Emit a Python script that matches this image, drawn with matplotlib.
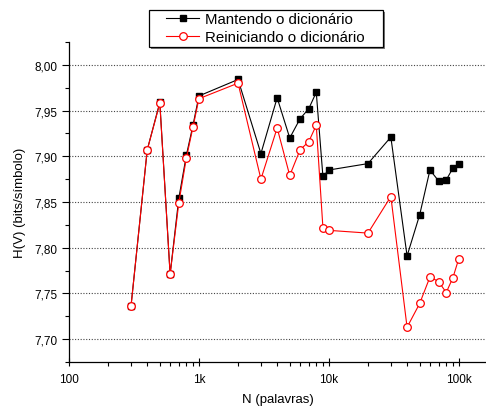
import matplotlib
matplotlib.use("Agg")
import matplotlib.pyplot as plt
from matplotlib.patches import Rectangle
from matplotlib.ticker import FixedLocator, FuncFormatter, MultipleLocator, NullFormatter

plt.rcParams['font.family'] = ['Liberation Sans', 'DejaVu Sans']

# N (palavras)
n_words = [300, 400, 500, 600, 700, 800, 900, 1000, 2000, 3000, 4000, 5000,
           6000, 7000, 8000, 9000, 10000, 20000, 30000, 40000, 50000, 60000,
           70000, 80000, 90000, 100000]

# H(V) keeping the dictionary
h_keep = [7.736, 7.907, 7.959, 7.771, 7.854, 7.901, 7.934, 7.966, 7.984, 7.903,
          7.964, 7.920, 7.941, 7.952, 7.970, 7.878, 7.885, 7.892, 7.921, 7.791,
          7.836, 7.885, 7.873, 7.874, 7.887, 7.892]

# H(V) restarting the dictionary
h_reset = [7.736, 7.907, 7.958, 7.771, 7.849, 7.898, 7.932, 7.963, 7.980, 7.875,
           7.931, 7.879, 7.907, 7.916, 7.934, 7.822, 7.819, 7.816, 7.856, 7.713,
           7.739, 7.768, 7.763, 7.751, 7.767, 7.788]

y_ticks = [7.70, 7.75, 7.80, 7.85, 7.90, 7.95, 8.00]

W, H = 486, 410
fig = plt.figure(figsize=(W / 100, H / 100), dpi=100)
ax = fig.add_axes([0.142, 0.1146, 0.858, 0.7805])

ax.plot(n_words, h_keep, color="black", lw=0.8, marker="s", ms=5,
        mfc="black", mec="black", label="Mantendo o dicionário", zorder=3)
ax.plot(n_words, h_reset, color="red", lw=0.8, marker="o", ms=5.5,
        mfc="white", mec="red", mew=0.9, label="Reiniciando o dicionário", zorder=4)

ax.set_xscale("log")
ax.set_xlim(100, 162000)
ax.set_ylim(7.675, 8.025)

ax.xaxis.set_major_locator(FixedLocator([100, 1000, 10000, 100000]))
ax.xaxis.set_major_formatter(FuncFormatter(
    lambda v, p: {100: "100", 1000: "1k", 10000: "10k", 100000: "100k"}.get(int(round(v)), "")))
ax.xaxis.set_minor_formatter(NullFormatter())

ax.yaxis.set_major_locator(FixedLocator(y_ticks))
ax.yaxis.set_minor_locator(MultipleLocator(0.025))
ax.yaxis.set_major_formatter(FuncFormatter(lambda v, p: f"{v:.2f}".replace(".", ",")))

ax.tick_params(axis="x", which="major", direction="inout", length=6, width=0.8, labelsize=8.5, pad=5)
ax.tick_params(axis="x", which="minor", direction="out", length=3, width=0.8)
ax.tick_params(axis="y", which="major", direction="out", length=5, width=0.8, labelsize=8.5)
ax.tick_params(axis="y", which="minor", direction="out", length=3, width=0.8)

ax.spines["top"].set_visible(False)
ax.spines["right"].set_visible(False)
ax.spines["left"].set_linewidth(0.9)
ax.spines["bottom"].set_linewidth(0.9)

ax.yaxis.grid(True, which="major", color="#444444", linestyle=(0, (1, 1.5)), lw=0.8)
ax.set_axisbelow(True)

ax.set_xlabel("N (palavras)", fontsize=9.5, labelpad=6)
ax.set_ylabel("H(V) (bits/símbolo)", fontsize=9.5, labelpad=6)

# legend box drawn by hand (wider side padding than matplotlib's frame)
x0, x1, y0, y1 = 148.5 / W, 382.5 / W, 1 - 47.5 / H, 1 - 10.5 / H
fig.patches.append(Rectangle((x0 + 2 / W, y0 - 2 / H), x1 - x0, y1 - y0,
                             transform=fig.transFigure, fc="#7a7a7a", ec="none", zorder=5))
fig.patches.append(Rectangle((x0, y0), x1 - x0, y1 - y0, transform=fig.transFigure,
                             fc="white", ec="black", lw=0.9, zorder=6))

leg = fig.legend(loc="center left", bbox_to_anchor=(166 / W, (y0 + y1) / 2), fontsize=10.8,
                 frameon=False, borderpad=0, handlelength=2.2, handletextpad=0.4,
                 labelspacing=0.3, borderaxespad=0)
leg.set_zorder(7)

fig.savefig("out.png", dpi=100)
